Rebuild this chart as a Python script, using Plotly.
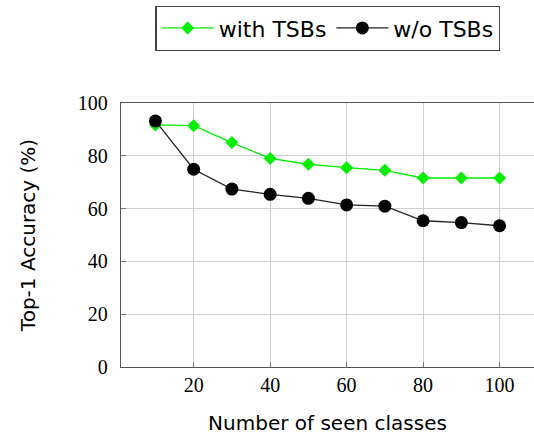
import plotly.graph_objects as go

seen_classes = [10, 20, 30, 40, 50, 60, 70, 80, 90, 100]
with_tsbs = [91.7, 91.4, 85.0, 79.0, 76.8, 75.5, 74.5, 71.6, 71.6, 71.6]
without_tsbs = [93.2, 74.9, 67.4, 65.4, 63.9, 61.4, 60.9, 55.4, 54.7, 53.5]
x_ticks = [20, 40, 60, 80, 100]
y_ticks = [0, 20, 40, 60, 80, 100]

fig = go.Figure()
fig.add_trace(go.Scatter(
    x=seen_classes, y=with_tsbs, name="with TSBs", mode="lines+markers",
    line=dict(color="#00f000", width=1.3),
    marker=dict(symbol="diamond", size=10, color="#00f000"),
))
fig.add_trace(go.Scatter(
    x=seen_classes, y=without_tsbs, name="w/o TSBs", mode="lines+markers",
    line=dict(color="#222222", width=1.3),
    marker=dict(symbol="circle", size=13, color="black"),
))

axis_common = dict(
    showgrid=True, gridcolor="#d0d0d0", gridwidth=1,
    showline=True, linecolor="#555555", linewidth=1.3, mirror=True,
    ticks="inside", ticklen=5, tickcolor="#777777",
    zeroline=False, automargin=True,
    tickfont=dict(family="Liberation Serif", size=20, color="black"),
)

fig.update_layout(
    width=534, height=436,
    margin=dict(l=121, r=0, t=103, b=69, autoexpand=False),
    plot_bgcolor="white", paper_bgcolor="white",
    xaxis=dict(range=[1, 109], tickvals=x_ticks,
               title=dict(text="Number of seen classes", standoff=20,
                          font=dict(family="DejaVu Sans", size=20, color="black")),
               **axis_common),
    yaxis=dict(range=[0, 100], tickvals=y_ticks, ticklabelstandoff=8,
               title=dict(text="Top-1 Accuracy (%)", standoff=36,
                          font=dict(family="DejaVu Sans", size=20, color="black")),
               **axis_common),
    legend=dict(orientation="h", x=0.501, xanchor="center", y=1.368, yanchor="top",
                bordercolor="#444444", borderwidth=1.3, bgcolor="white",
                font=dict(family="DejaVu Sans", size=22, color="black"),
                itemwidth=52, tracegroupgap=0),
    showlegend=True,
)

fig.write_html("out.html", config={"displayModeBar": False},
               post_script="document.body.style.margin='0';")
